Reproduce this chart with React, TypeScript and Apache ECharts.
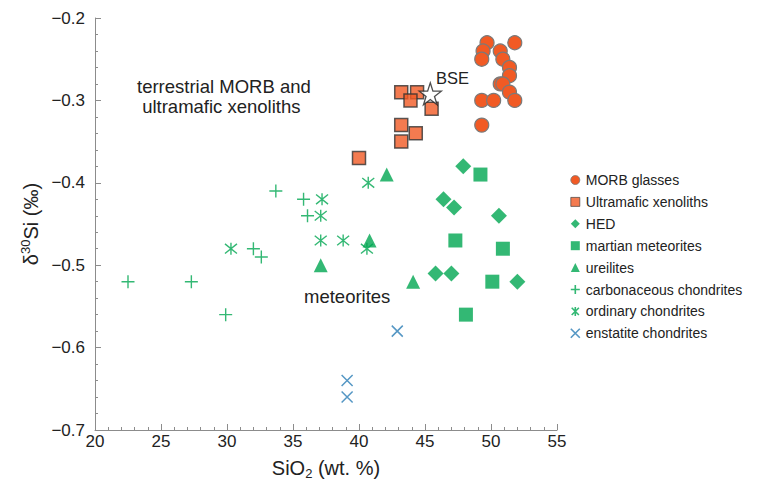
import React, { useEffect, useRef } from "react";
import * as echarts from "echarts";

const morbGlasses: [number, number][] = [
  [49.7, -0.23], [51.8, -0.23], [49.4, -0.24], [49.3, -0.25], [50.7, -0.24],
  [50.9, -0.25], [51.4, -0.26], [51.4, -0.27], [50.7, -0.28], [50.9, -0.28],
  [51.4, -0.29], [49.3, -0.30], [50.2, -0.30], [51.8, -0.30], [49.3, -0.33],
];
const ultramafic: [number, number][] = [
  [43.2, -0.29], [44.4, -0.29], [43.9, -0.30], [45.5, -0.31],
  [43.2, -0.33], [44.3, -0.34], [43.2, -0.35], [40.0, -0.37],
];
const hed: [number, number][] = [
  [47.9, -0.38], [46.4, -0.42], [47.2, -0.43], [50.6, -0.44],
  [45.8, -0.51], [47.0, -0.51], [52.0, -0.52],
];
const martian: [number, number][] = [
  [49.2, -0.39], [47.3, -0.47], [50.9, -0.48], [50.1, -0.52], [48.1, -0.56],
];
const ureilites: [number, number][] = [
  [42.1, -0.39], [40.8, -0.47], [37.1, -0.50], [44.1, -0.52],
];
const carbonaceous: [number, number][] = [
  [33.7, -0.41], [35.8, -0.42], [36.1, -0.44], [32.0, -0.48],
  [32.6, -0.49], [22.5, -0.52], [27.3, -0.52], [29.9, -0.56],
];
const ordinary: [number, number][] = [
  [30.3, -0.48], [37.2, -0.42], [37.1, -0.44], [37.1, -0.47],
  [38.8, -0.47], [40.7, -0.40], [40.6, -0.48],
];
const enstatite: [number, number][] = [
  [42.9, -0.58], [39.1, -0.64], [39.1, -0.66],
];
const bse: [number, number][] = [[45.4, -0.292]];

const xTicks = { min: 20, max: 55, interval: 5 };
const yTicks = { min: -0.7, max: -0.2, interval: 0.1 };

const legendNames = [
  "MORB glasses",
  "Ultramafic xenoliths",
  "HED",
  "martian meteorites",
  "ureilites",
  "carbonaceous chondrites",
  "ordinary chondrites",
  "enstatite chondrites",
];

const ORANGE = "#f15a24";
const GREEN = "#00a651";
const BLUE = "#2a7db5";

const STAR =
  "path://M50,0 L61.8,35.5 L99,35.5 L68.8,57.4 L80.4,93 L50,71 L19.6,93 L31.2,57.4 L1,35.5 L38.2,35.5 Z";
const PLUS = "path://M5,0 L5,10 M0,5 L10,5";
const CROSS = "path://M0,0 L10,10 M10,0 L0,10";
const ASTER = "path://M1,1 L9,9 M9,1 L1,9 M5,0 L5,10";

export default function App() {
  const ref = useRef<HTMLDivElement>(null);
  useEffect(() => {
    if (!ref.current) return;
    const chart = echarts.init(ref.current, undefined, { renderer: "svg" });
    const font = "Liberation Sans, Arial, Helvetica, sans-serif";
    const fmt = (v: number) => {
      const s = Math.abs(v) < 1e-9 ? "0" : v.toFixed(1);
      return s.replace("-", "\u2212");
    };
    const strokeLegend = [false, false, false, false, false, true, true, true];
    chart.setOption({
      animation: false,
      textStyle: { fontFamily: font },
      grid: { left: 95, right: 203, top: 18, bottom: 58 },
      xAxis: {
        type: "value",
        min: xTicks.min,
        max: xTicks.max,
        interval: xTicks.interval,
        name: "SiO{sub|2} (wt. %)",
        nameLocation: "middle",
        nameGap: 26,
        nameTextStyle: {
          fontSize: 20,
          color: "#222",
          fontFamily: font,
          rich: { sub: { fontSize: 13, verticalAlign: "bottom", padding: [11, 0, 0, 0], color: "#222" } },
        },
        axisLine: { show: true, lineStyle: { color: "#8c8c8c", width: 1 } },
        axisTick: { show: true, inside: true, length: 6, lineStyle: { color: "#8c8c8c" } },
        minorTick: { show: true, splitNumber: 5, length: 3, lineStyle: { color: "#8c8c8c" } },
        splitLine: { show: false },
        axisLabel: { fontSize: 17, color: "#222", margin: 3, fontFamily: font, formatter: (v: number) => String(v) },
      },
      yAxis: {
        type: "value",
        min: yTicks.min,
        max: yTicks.max,
        interval: yTicks.interval,
        name: "\u03b4{sup|30}Si (\u2030)",
        nameLocation: "middle",
        nameRotate: 90,
        nameGap: 45,
        nameTextStyle: {
          fontSize: 20,
          color: "#222",
          fontFamily: font,
          rich: { sup: { fontSize: 13, verticalAlign: "top", padding: [0, 0, 10, 0], color: "#222" } },
        },
        axisLine: { show: true, lineStyle: { color: "#8c8c8c", width: 1 } },
        axisTick: { show: true, inside: true, length: 6, lineStyle: { color: "#8c8c8c" } },
        minorTick: { show: true, splitNumber: 5, length: 3, lineStyle: { color: "#8c8c8c" } },
        splitLine: { show: false },
        axisLabel: { fontSize: 17, color: "#222", margin: 10, fontFamily: font, formatter: fmt },
      },
      legend: {
        orient: "vertical",
        left: 565,
        top: 168,
        itemWidth: 9,
        itemHeight: 9,
        itemGap: 7.9,
        itemStyle: { borderWidth: 0.8 },
        textStyle: { fontSize: 14, color: "#222", fontFamily: font, padding: [0, 0, 0, 1] },
        data: legendNames.map((n, i) =>
          strokeLegend[i] ? { name: n, itemStyle: { borderWidth: 1.6 } } : { name: n }
        ),
      },
      graphic: [
        {
          type: "text",
          left: 137,
          top: 76,
          style: {
            text: "terrestrial MORB and\n ultramafic xenoliths",
            fontSize: 18.5,
            lineHeight: 20,
            fill: "#222",
            fontFamily: font,
            align: "center",
          },
        },
        {
          type: "text",
          left: 304,
          top: 287,
          style: { text: "meteorites", fontSize: 18.5, fill: "#222", fontFamily: font },
        },
        {
          type: "text",
          left: 436,
          top: 69,
          style: { text: "BSE", fontSize: 16.5, fill: "#222", fontFamily: font },
        },
      ],
      series: [
        {
          name: "ordinary chondrites",
          type: "scatter",
          data: ordinary,
          symbol: ASTER,
          symbolSize: 12,
          itemStyle: { color: "rgba(0,0,0,0)", borderColor: GREEN, borderWidth: 1.4 },
        },
        {
          name: "carbonaceous chondrites",
          type: "scatter",
          data: carbonaceous,
          symbol: PLUS,
          symbolSize: 13,
          itemStyle: { color: "rgba(0,0,0,0)", borderColor: GREEN, borderWidth: 1.4 },
        },
        {
          name: "enstatite chondrites",
          type: "scatter",
          data: enstatite,
          symbol: CROSS,
          symbolSize: 11,
          itemStyle: { color: "rgba(0,0,0,0)", borderColor: BLUE, borderWidth: 1.5 },
        },
        {
          name: "ureilites",
          type: "scatter",
          data: ureilites,
          symbol: "triangle",
          symbolSize: 14,
          itemStyle: { color: GREEN },
        },
        {
          name: "HED",
          type: "scatter",
          data: hed,
          symbol: "diamond",
          symbolSize: 16,
          itemStyle: { color: GREEN },
        },
        {
          name: "martian meteorites",
          type: "scatter",
          data: martian,
          symbol: "rect",
          symbolSize: 14,
          itemStyle: { color: GREEN },
        },
        {
          name: "MORB glasses",
          type: "scatter",
          data: morbGlasses,
          symbol: "circle",
          symbolSize: 14,
          itemStyle: { color: ORANGE, borderColor: "#7a7a7a", borderWidth: 1.2, opacity: 1 },
        },
        {
          name: "Ultramafic xenoliths",
          type: "scatter",
          data: ultramafic,
          symbol: "rect",
          symbolSize: 13,
          itemStyle: { color: ORANGE, borderColor: "#333", borderWidth: 1.5 },
        },
        {
          name: "BSE",
          type: "scatter",
          data: bse,
          symbol: STAR,
          symbolSize: 22,
          itemStyle: { color: "#fff", borderColor: "#222", borderWidth: 1.3 },
          z: 5,
        },
      ],
    });
    return () => chart.dispose();
  }, []);
  return <div ref={ref} style={{ width: 760, height: 488, position: "absolute", left: 0, top: 0 }} />;
}
